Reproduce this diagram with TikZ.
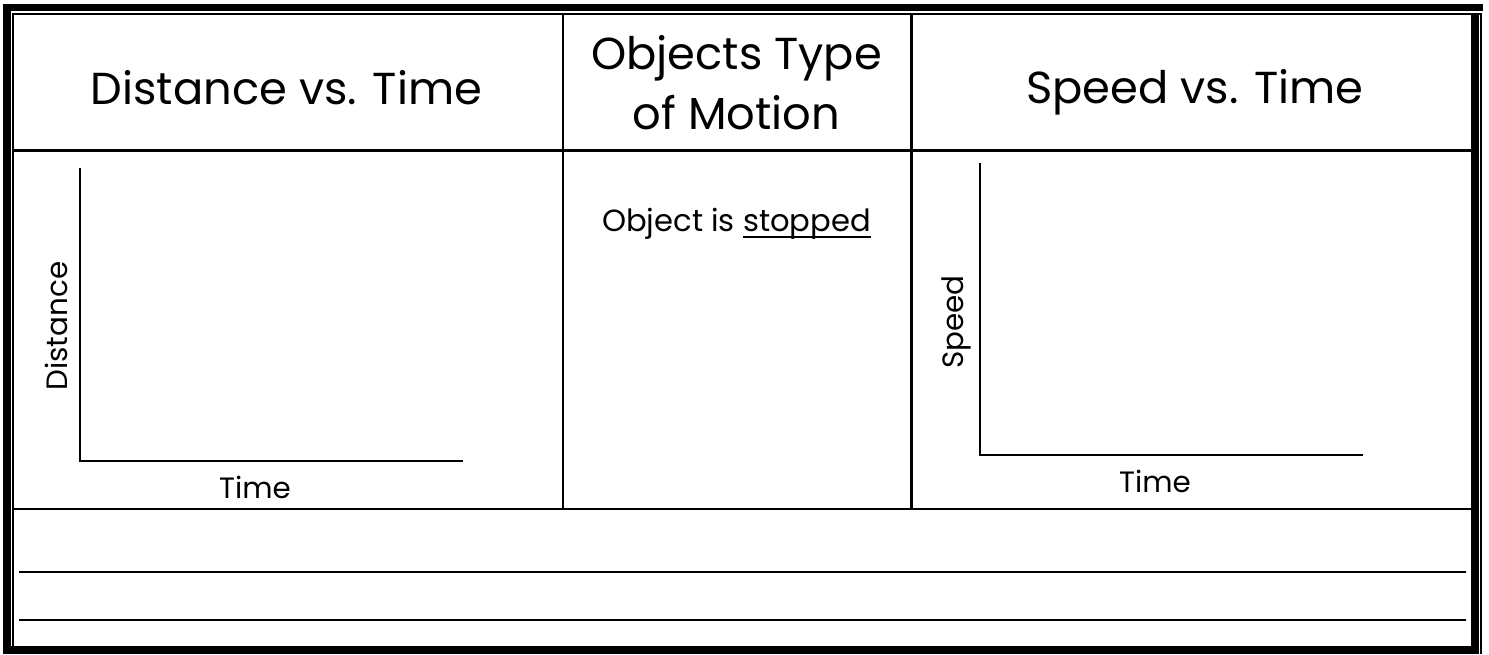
\documentclass[tikz,border=0pt]{standalone}
\usepackage{fontspec}
\setmainfont{Poppins}
\newcommand\myul[1]{\setbox0\hbox{#1}\rlap{\rule[-3.6pt]{\wd0}{1.1pt}}\box0}
\begin{document}
\begin{tikzpicture}[x=0.5pt,y=-0.5pt,
  hdr/.style={inner sep=0pt,anchor=base,font=\fontsize{22.4}{27}\selectfont},
  lbl/.style={inner sep=0pt,anchor=base,font=\fontsize{14.7}{18}\selectfont},
  body/.style={inner sep=0pt,anchor=base,font=\fontsize{15.3}{19}\selectfont},
  grid/.style={line width=1.3pt},
  rule/.style={line width=1pt},
  axis/.style={line width=0.85pt}]
\useasboundingbox (0,0) rectangle (1489,654);
\fill[white] (0,0) rectangle (1489,654);
% outer double border
\fill[black] (3,4) rectangle (1483,11);
\fill[black] (3,4) rectangle (11,654);
\fill[black] (12,13) rectangle (1481.5,15);
\fill[black] (12,13) rectangle (14,654);
\fill[black] (1471,15) rectangle (1479,654);
\fill[black] (1480,13) rectangle (1482,654);
\fill[black] (11,646) rectangle (1479,654);
% table lines
\draw[grid] (14,150.5) -- (1471,150.5);
\draw[grid] (14,509) -- (1471,509);
\draw[grid] (563,15) -- (563,509);
\draw[grid] (911.5,15) -- (911.5,509);
\draw[rule] (19,571.5) -- (1466,571.5);
\draw[rule] (19,620) -- (1466,620);
% headers
\node[hdr] (h1) at (286.5,104) {Distance vs. Time};
\node[hdr] (h2a) at (736.5,69) {Objects Type};
\node[hdr] (h2b) at (736.5,129) {of Motion};
\node[hdr] (h3) at (1195,103) {Speed vs. Time};
% graph 1
\coordinate (o1) at (80,461);
\coordinate (y1) at (80,168);
\coordinate (x1) at (463,461);
\draw[axis] (y1) -- (o1) -- (x1);
\node[lbl,rotate=90] (d1) at (67,326) {Distance};
\node[lbl] (t1) at (255,498) {Time};
% middle
\node[body] (obj) at (736.5,231) {Object is \myul{stopped}};
% graph 2
\coordinate (o2) at (980,455);
\coordinate (y2) at (980,163);
\coordinate (x2) at (1363,455);
\draw[axis] (y2) -- (o2) -- (x2);
\node[lbl,rotate=90] (s2) at (963,322) {Speed};
\node[lbl] (t2) at (1155,492) {Time};
\end{tikzpicture}
\end{document}
